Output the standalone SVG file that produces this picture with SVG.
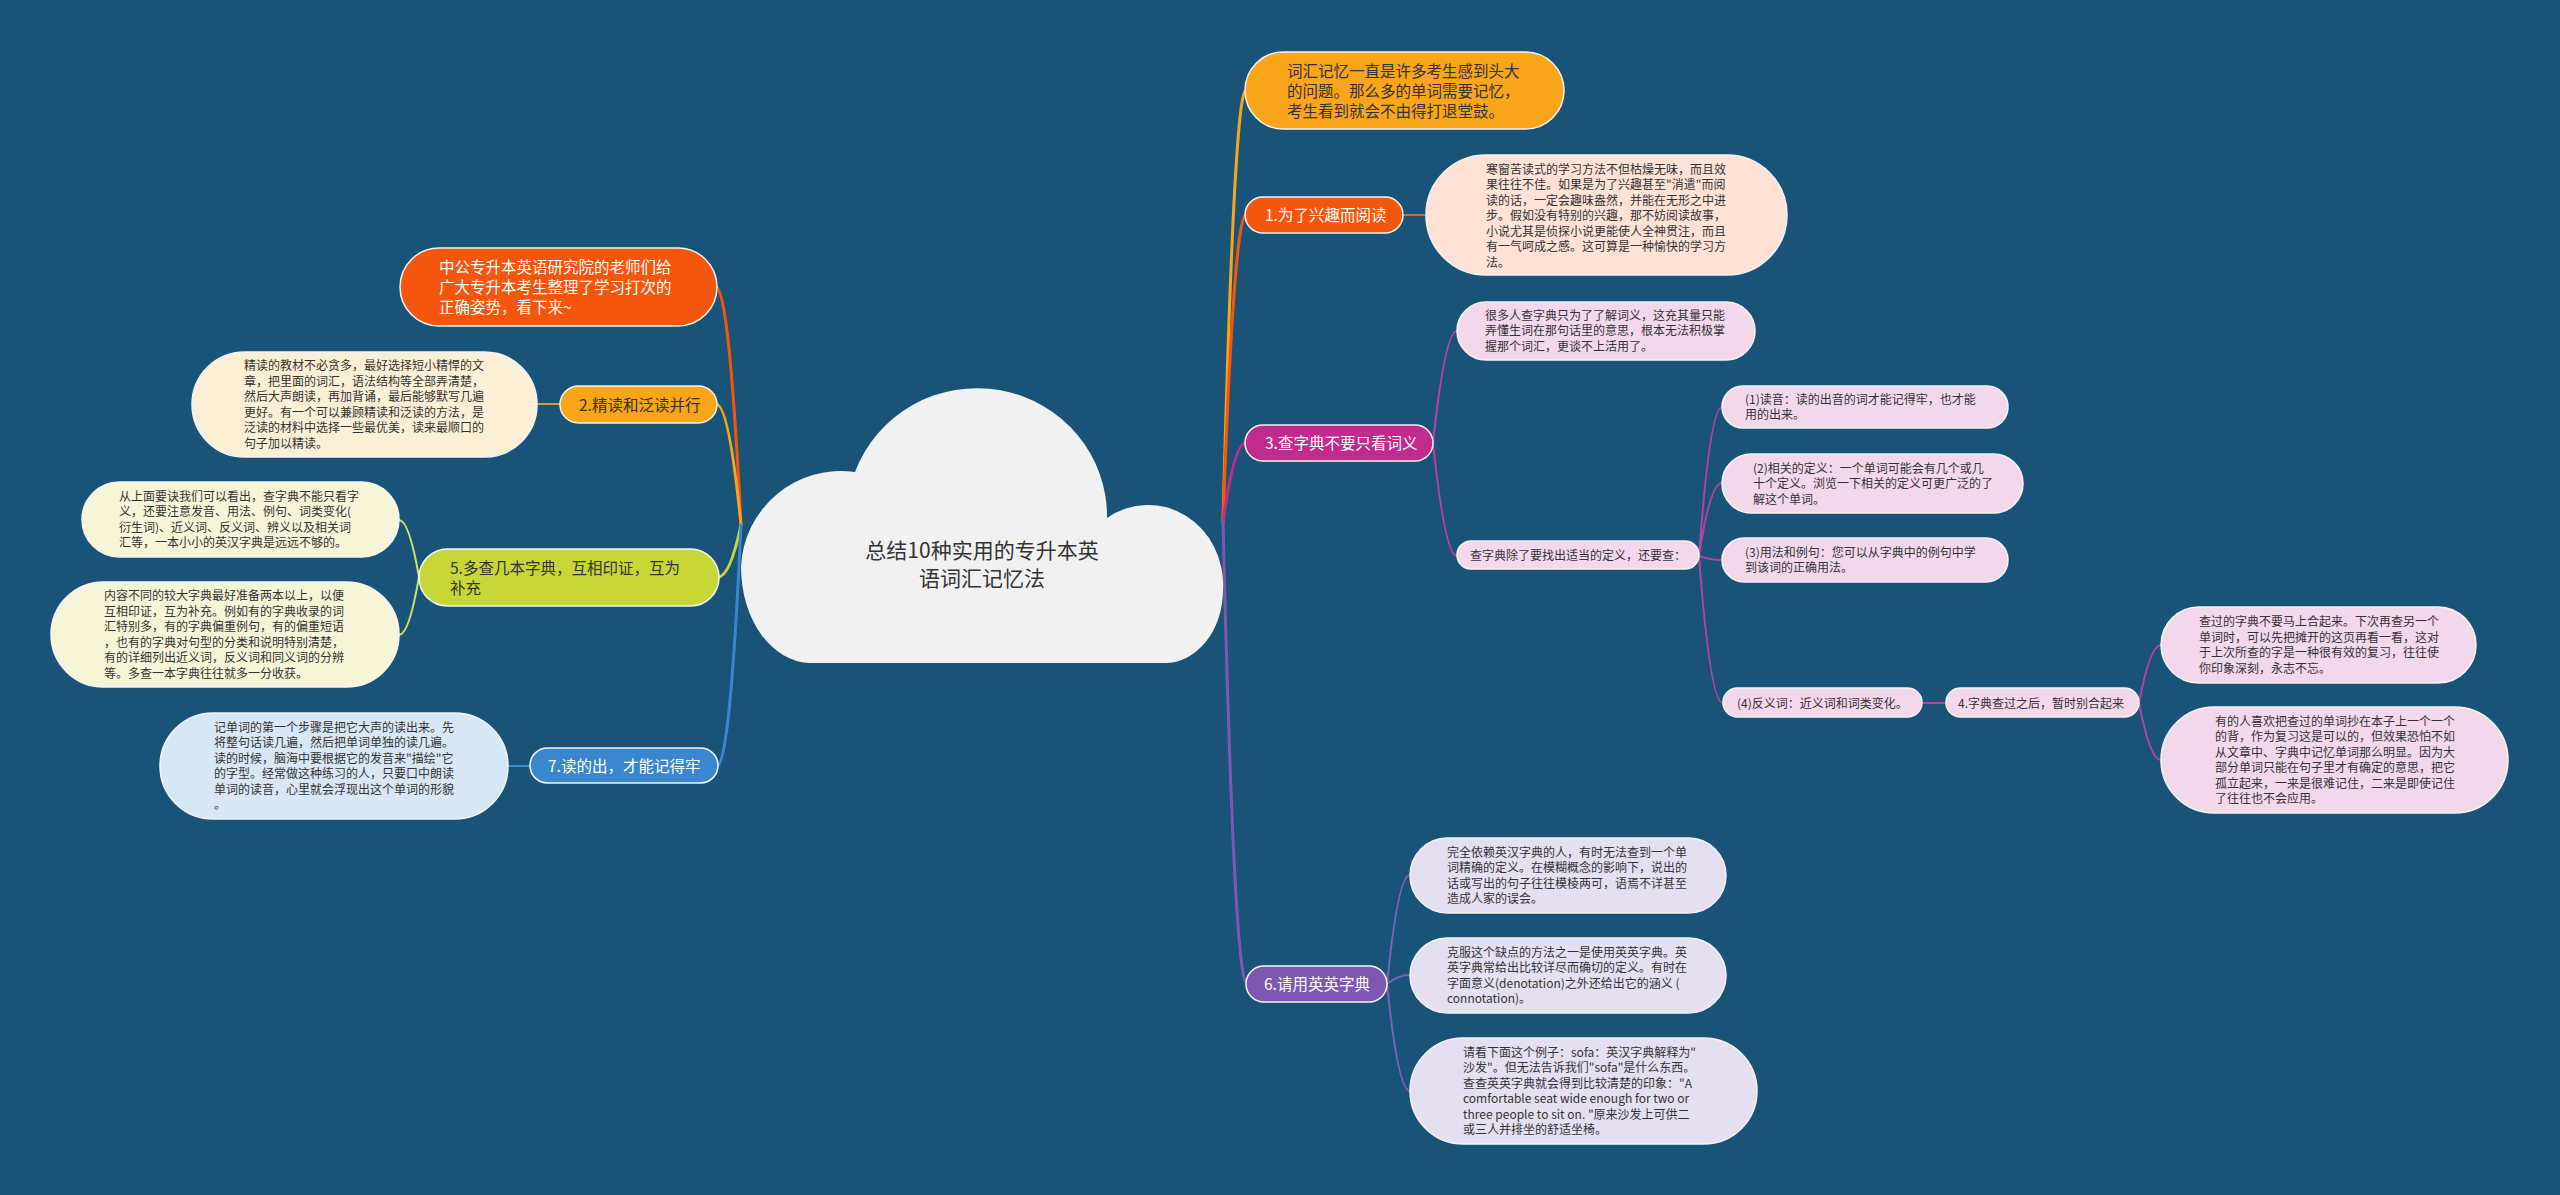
<svg xmlns="http://www.w3.org/2000/svg" width="2560" height="1195" viewBox="0 0 2560 1195">
<style>
text{font-family:"Noto Sans CJK SC","Noto Sans",sans-serif;fill:#333}
.d{font-size:12px}
.b{font-size:15.5px;fill:#fff}
.bd{font-size:15.5px;fill:#333}
.n{stroke:#f4f4f4;stroke-width:1.5}
.c{fill:none;stroke-width:3;stroke-linecap:round}
.c2{fill:none;stroke-width:2;stroke-linecap:round}
</style>
<rect width="2560" height="1195" fill="#1a5378"/>
<g id="connectors">
<path class="c" stroke="#f9a51a" d="M1223 522 Q1234 90 1246 90"/>
<path class="c" stroke="#f4560d" d="M1223 522 Q1234 215 1246 215"/>
<path class="c" stroke="#c22b8e" d="M1223 522 Q1234 443 1246 443"/>
<path class="c" stroke="#7e57b2" d="M1223 522 Q1234 984 1247 984"/>
<path class="c" stroke="#f4560d" d="M741 525 Q729 287 716 287"/>
<path class="c" stroke="#f9a51a" d="M741 525 Q729 404 716 404"/>
<path class="c" stroke="#c8d738" d="M741 525 Q730 577 718 577"/>
<path class="c" stroke="#3b87cf" d="M741 525 Q730 766 717 766"/>
<path class="c2" stroke="#d2692f" d="M1403 215 L1426 215"/>
<path class="c2" stroke="#b543a3" d="M1433 443 Q1445 331 1457 331 M1433 443 Q1445 556 1457 556"/>
<path class="c2" stroke="#b543a3" d="M1699 556 Q1710 407 1722 407 M1699 556 Q1710 483 1722 483 M1699 556 Q1710 560 1722 560 M1699 556 Q1710 703 1723 703"/>
<path class="c2" stroke="#b543a3" d="M1922 703 L1946 703 M2139 703 Q2150 645 2161 645 M2139 703 Q2150 760 2161 760"/>
<path class="c2" stroke="#7d62b8" d="M1387 984 Q1398 875 1410 875 M1387 984 Q1398 975 1410 975 M1387 984 Q1398 1091 1410 1091"/>
<path class="c2" stroke="#c9a13a" d="M560 404 L537 404"/>
<path class="c2" stroke="#cfe070" d="M419 577 Q409 520 399 520 M419 577 Q409 635 399 635"/>
<path class="c2" stroke="#3c8ad0" d="M530 766 L508 766"/>
</g>
<g id="center">
<path fill="#f1f1f1" d="M810 663 L1165 663 A58 73 0 0 0 1223 590 A75 80 0 0 0 1107 518 A130 128 0 0 0 855 472 A100 100 0 0 0 741 567 A70 96 0 0 0 810 663 Z"/>
<text x="982" y="558" font-size="21" text-anchor="middle">总结10种实用的专升本英</text>
<text x="982" y="586" font-size="21" text-anchor="middle">语词汇记忆法</text>
</g>
<g id="intro-right">
<rect class="n" x="1245" y="52" width="319" height="77" rx="38.5" fill="#f9a51a"/>
<text class="bd" x="1287" y="76.5"><tspan x="1287">词汇记忆一直是许多考生感到头大</tspan><tspan x="1287" dy="20">的问题。那么多的单词需要记忆，</tspan><tspan x="1287" dy="20">考生看到就会不由得打退堂鼓。</tspan></text>
</g>
<g id="b1">
<rect class="n" x="1245" y="197" width="158" height="36" rx="18" fill="#f4560d"/>
<text class="b" x="1265" y="221">1.为了兴趣而阅读</text>
</g>
<g id="b1-d">
<rect class="n" x="1426" y="155" width="361" height="120" rx="60" fill="#fde2d5"/>
<text class="d" x="1486" y="173.5"><tspan x="1486">寒窗苦读式的学习方法不但枯燥无味，而且效</tspan><tspan x="1486" dy="15.5">果往往不佳。如果是为了兴趣甚至"消遣"而阅</tspan><tspan x="1486" dy="15.5">读的话，一定会趣味盎然，并能在无形之中进</tspan><tspan x="1486" dy="15.5">步。假如没有特别的兴趣，那不妨阅读故事，</tspan><tspan x="1486" dy="15.5">小说尤其是侦探小说更能使人全神贯注，而且</tspan><tspan x="1486" dy="15.5">有一气呵成之感。这可算是一种愉快的学习方</tspan><tspan x="1486" dy="15.5">法。</tspan></text>
</g>
<g id="b3">
<rect class="n" x="1245" y="425" width="188" height="36" rx="18" fill="#c22b8e"/>
<text class="b" x="1265" y="449">3.查字典不要只看词义</text>
</g>
<g id="b3-d1">
<rect class="n" x="1457" y="302" width="298" height="58" rx="29" fill="#f3d8eb"/>
<text class="d" x="1485" y="319.5"><tspan x="1485">很多人查字典只为了了解词义，这充其量只能</tspan><tspan x="1485" dy="15.5">弄懂生词在那句话里的意思，根本无法积极掌</tspan><tspan x="1485" dy="15.5">握那个词汇，更谈不上活用了。</tspan></text>
</g>
<g id="b3-d2">
<rect class="n" x="1457" y="541" width="242" height="28" rx="14" fill="#f3d8eb"/>
<text class="d" x="1470" y="560">查字典除了要找出适当的定义，还要查：</text>
</g>
<g id="b3-d2-1">
<rect class="n" x="1722" y="386" width="286" height="42" rx="21" fill="#f3d8eb"/>
<text class="d" x="1745" y="403.75"><tspan x="1745">(1)读音：读的出音的词才能记得牢，也才能</tspan><tspan x="1745" dy="15.5">用的出来。</tspan></text>
</g>
<g id="b3-d2-2">
<rect class="n" x="1722" y="454" width="301" height="59" rx="29.5" fill="#f3d8eb"/>
<text class="d" x="1753" y="472.5"><tspan x="1753">(2)相关的定义：一个单词可能会有几个或几</tspan><tspan x="1753" dy="15.5">十个定义。浏览一下相关的定义可更广泛的了</tspan><tspan x="1753" dy="15.5">解这个单词。</tspan></text>
</g>
<g id="b3-d2-3">
<rect class="n" x="1722" y="538" width="286" height="44" rx="22" fill="#f3d8eb"/>
<text class="d" x="1745" y="556.75"><tspan x="1745">(3)用法和例句：您可以从字典中的例句中学</tspan><tspan x="1745" dy="15.5">到该词的正确用法。</tspan></text>
</g>
<g id="b3-d2-4">
<rect class="n" x="1723" y="688" width="199" height="29" rx="14.5" fill="#f3d8eb"/>
<text class="d" x="1737" y="707.5">(4)反义词：近义词和词类变化。</text>
</g>
<g id="b4">
<rect class="n" x="1946" y="688" width="193" height="29" rx="14.5" fill="#f3d8eb"/>
<text class="d" x="1958" y="707.5">4.字典查过之后，暂时别合起来</text>
</g>
<g id="b4-d1">
<rect class="n" x="2161" y="607" width="315" height="76" rx="38" fill="#f3d8eb"/>
<text class="d" x="2199" y="626.25"><tspan x="2199">查过的字典不要马上合起来。下次再查另一个</tspan><tspan x="2199" dy="15.5">单词时，可以先把摊开的这页再看一看，这对</tspan><tspan x="2199" dy="15.5">于上次所查的字是一种很有效的复习，往往使</tspan><tspan x="2199" dy="15.5">你印象深刻，永志不忘。</tspan></text>
</g>
<g id="b4-d2">
<rect class="n" x="2161" y="707" width="347" height="106" rx="53" fill="#f3d8eb"/>
<text class="d" x="2215" y="725.75"><tspan x="2215">有的人喜欢把查过的单词抄在本子上一个一个</tspan><tspan x="2215" dy="15.5">的背，作为复习这是可以的，但效果恐怕不如</tspan><tspan x="2215" dy="15.5">从文章中、字典中记忆单词那么明显。因为大</tspan><tspan x="2215" dy="15.5">部分单词只能在句子里才有确定的意思，把它</tspan><tspan x="2215" dy="15.5">孤立起来，一来是很难记住，二来是即使记住</tspan><tspan x="2215" dy="15.5">了往往也不会应用。</tspan></text>
</g>
<g id="b6">
<rect class="n" x="1246" y="966" width="141" height="36" rx="18" fill="#7e57b2"/>
<text class="b" x="1264" y="990">6.请用英英字典</text>
</g>
<g id="b6-d1">
<rect class="n" x="1410" y="838" width="316" height="75" rx="37.5" fill="#e4e0f1"/>
<text class="d" x="1447" y="856.75"><tspan x="1447">完全依赖英汉字典的人，有时无法查到一个单</tspan><tspan x="1447" dy="15.5">词精确的定义。在模糊概念的影响下，说出的</tspan><tspan x="1447" dy="15.5">话或写出的句子往往模棱两可，语焉不详甚至</tspan><tspan x="1447" dy="15.5">造成人家的误会。</tspan></text>
</g>
<g id="b6-d2">
<rect class="n" x="1410" y="938" width="316" height="75" rx="37.5" fill="#e4e0f1"/>
<text class="d" x="1447" y="956.75"><tspan x="1447">克服这个缺点的方法之一是使用英英字典。英</tspan><tspan x="1447" dy="15.5">英字典常给出比较详尽而确切的定义。有时在</tspan><tspan x="1447" dy="15.5">字面意义(denotation)之外还给出它的涵义 (</tspan><tspan x="1447" dy="15.5">connotation)。</tspan></text>
</g>
<g id="b6-d3">
<rect class="n" x="1410" y="1038" width="347" height="106" rx="53" fill="#e4e0f1"/>
<text class="d" x="1463" y="1056.75"><tspan x="1463">请看下面这个例子：sofa：英汉字典解释为"</tspan><tspan x="1463" dy="15.5">沙发"。但无法告诉我们"sofa"是什么东西。</tspan><tspan x="1463" dy="15.5">查查英英字典就会得到比较清楚的印象："A</tspan><tspan x="1463" dy="15.5">comfortable seat wide enough for two or</tspan><tspan x="1463" dy="15.5">three people to sit on. "原来沙发上可供二</tspan><tspan x="1463" dy="15.5">或三人并排坐的舒适坐椅。</tspan></text>
</g>
<g id="intro-left">
<rect class="n" x="400" y="248" width="317" height="78" rx="39" fill="#f4560d"/>
<text class="b" x="439" y="273"><tspan x="439">中公专升本英语研究院的老师们给</tspan><tspan x="439" dy="20">广大专升本考生整理了学习打次的</tspan><tspan x="439" dy="20">正确姿势，看下来~</tspan></text>
</g>
<g id="b2">
<rect class="n" x="560" y="386" width="157" height="37" rx="18.5" fill="#f9a51a"/>
<text class="bd" x="579" y="410.5">2.精读和泛读并行</text>
</g>
<g id="b2-d">
<rect class="n" x="192" y="352" width="345" height="105" rx="52.5" fill="#fcefd6"/>
<text class="d" x="244" y="370.25"><tspan x="244">精读的教材不必贪多，最好选择短小精悍的文</tspan><tspan x="244" dy="15.5">章，把里面的词汇，语法结构等全部弄清楚，</tspan><tspan x="244" dy="15.5">然后大声朗读，再加背诵，最后能够默写几遍</tspan><tspan x="244" dy="15.5">更好。有一个可以兼顾精读和泛读的方法，是</tspan><tspan x="244" dy="15.5">泛读的材料中选择一些最优美，读来最顺口的</tspan><tspan x="244" dy="15.5">句子加以精读。</tspan></text>
</g>
<g id="b5">
<rect class="n" x="419" y="549" width="300" height="57" rx="28.5" fill="#c8d738"/>
<text class="bd" x="450" y="573.5"><tspan x="450">5.多查几本字典，互相印证，互为</tspan><tspan x="450" dy="20">补充</tspan></text>
</g>
<g id="b5-d1">
<rect class="n" x="82" y="482" width="317" height="75" rx="37.5" fill="#f6f5d8"/>
<text class="d" x="119" y="500.75"><tspan x="119">从上面要诀我们可以看出，查字典不能只看字</tspan><tspan x="119" dy="15.5">义，还要注意发音、用法、例句、词类变化(</tspan><tspan x="119" dy="15.5">衍生词)、近义词、反义词、辨义以及相关词</tspan><tspan x="119" dy="15.5">汇等，一本小小的英汉字典是远远不够的。</tspan></text>
</g>
<g id="b5-d2">
<rect class="n" x="51" y="582" width="348" height="105" rx="52.5" fill="#f6f5d8"/>
<text class="d" x="104" y="600.25"><tspan x="104">内容不同的较大字典最好准备两本以上，以便</tspan><tspan x="104" dy="15.5">互相印证，互为补充。例如有的字典收录的词</tspan><tspan x="104" dy="15.5">汇特别多，有的字典偏重例句，有的偏重短语</tspan><tspan x="104" dy="15.5">，也有的字典对句型的分类和说明特别清楚，</tspan><tspan x="104" dy="15.5">有的详细列出近义词，反义词和同义词的分辨</tspan><tspan x="104" dy="15.5">等。多查一本字典往往就多一分收获。</tspan></text>
</g>
<g id="b7">
<rect class="n" x="530" y="748" width="188" height="35" rx="17.5" fill="#3b87cf"/>
<text class="b" x="548" y="771.5">7.读的出，才能记得牢</text>
</g>
<g id="b7-d">
<rect class="n" x="160" y="713" width="348" height="106" rx="53" fill="#d8e7f5"/>
<text class="d" x="214" y="731.75"><tspan x="214">记单词的第一个步骤是把它大声的读出来。先</tspan><tspan x="214" dy="15.5">将整句话读几遍，然后把单词单独的读几遍。</tspan><tspan x="214" dy="15.5">读的时候，脑海中要根据它的发音来"描绘"它</tspan><tspan x="214" dy="15.5">的字型。经常做这种练习的人，只要口中朗读</tspan><tspan x="214" dy="15.5">单词的读音，心里就会浮现出这个单词的形貌</tspan><tspan x="214" dy="15.5">。</tspan></text>
</g>
</svg>
